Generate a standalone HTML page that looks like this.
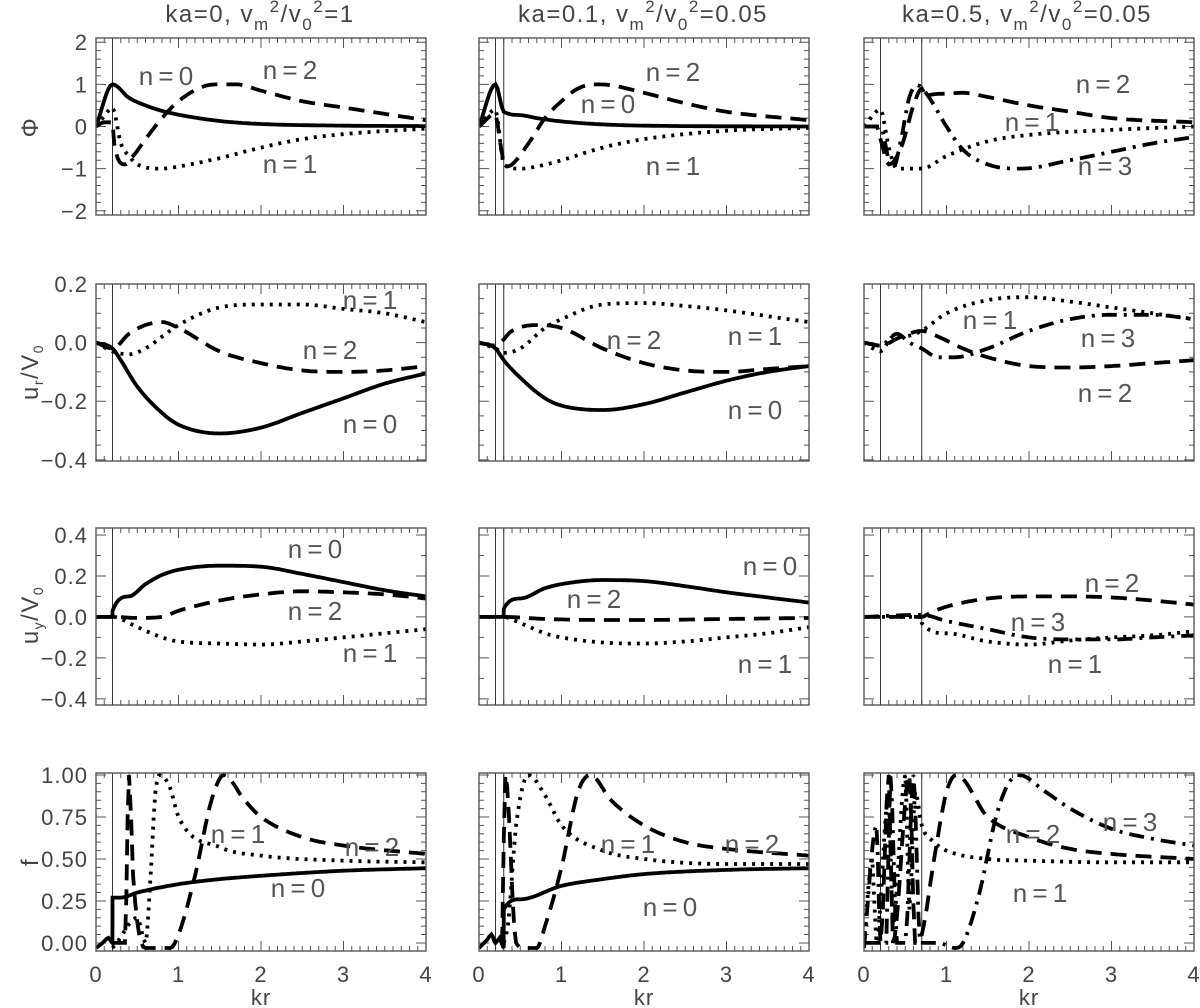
<!DOCTYPE html>
<html>
<head>
<meta charset="utf-8">
<style>
  html,body{margin:0;padding:0;background:#fff;}
  svg{display:block;font-family:"Liberation Sans",sans-serif;}
  .tl{font-size:22px;fill:#444;letter-spacing:1px;}
  .lab{font-size:26px;fill:#555;}
  .ttl{font-size:24px;fill:#444;letter-spacing:1.5px;}
</style>
</head>
<body>
<svg id="fig" width="1200" height="1008" viewBox="0 0 1200 1008" xmlns="http://www.w3.org/2000/svg"></svg>
<script>
// ---------- DATA (kr samples and values) ----------
// Row 1: Phi
const p11_n0_x=[0,0.2,0.4,0.6,0.8,1.0,1.5,2,3,4];
const p11_n0_y=[0,1.0,0.68,0.5,0.37,0.28,0.13,0.06,0.02,0.01];
const p11_n1_x=[0,0.1,0.2,0.3,0.4,0.5,0.8,1.0,1.5,2,2.5,3,4];
const p11_n1_y=[0,0.25,0.45,-0.4,-0.7,-0.9,-1.0,-0.95,-0.75,-0.5,-0.3,-0.18,-0.05];
const p11_n2_x=[0,0.1,0.2,0.22,0.35,0.45,0.6,0.8,1.0,1.3,1.5,1.7,2,2.5,3,3.5,4];
const p11_n2_y=[0,0.1,0.1,-0.4,-0.9,-0.7,-0.3,0.2,0.6,0.95,1.0,1.0,0.85,0.6,0.45,0.3,0.15];

const p12_n0_x=[0,0.2,0.3,0.5,0.7,1,1.5,2,4];
const p12_n0_y=[0,1.0,0.35,0.27,0.2,0.12,0.05,0.02,0];
const p12_n1_x=[0,0.2,0.3,0.5,0.7,1,1.5,2,3,4];
const p12_n1_y=[0,0.4,-0.9,-1.0,-0.95,-0.8,-0.5,-0.3,-0.1,-0.03];
const p12_n2_x=[0,0.2,0.25,0.32,0.4,0.6,0.8,1.0,1.2,1.4,1.6,2,2.5,3,4];
const p12_n2_y=[0,0.3,-0.3,-0.95,-0.9,-0.4,0.2,0.6,0.9,1.0,0.98,0.8,0.55,0.35,0.15];

const p13_n1_x=[0,0.2,0.3,0.4,0.7,1.0,1.5,2,3,4];
const p13_n1_y=[0,0.4,-0.5,-1.0,-1.0,-0.7,-0.35,-0.2,-0.08,0];
const p13_n2_x=[0,0.15,0.2,0.3,0.45,0.6,0.7,0.75,0.8,1.0,1.2,1.5,2,2.5,3,4];
const p13_n2_y=[0,0,-0.3,-0.9,-0.5,0.5,0.9,0.7,0.75,0.78,0.8,0.7,0.5,0.35,0.2,0.1];
const p13_n3_x=[0,0.2,0.3,0.35,0.45,0.55,0.65,0.75,1.0,1.2,1.5,1.9,2.5,3,3.5,4];
const p13_n3_y=[0,0,-0.8,-1.0,-0.3,0.7,0.98,0.8,0,-0.55,-0.9,-1.0,-0.8,-0.6,-0.4,-0.25];

// Row 2: u_r/V0
const p21_n0_x=[0,0.2,0.3,0.5,0.8,1.0,1.5,2,2.5,3,3.5,4];
const p21_n0_y=[0,-0.02,-0.06,-0.15,-0.24,-0.28,-0.31,-0.29,-0.24,-0.19,-0.14,-0.105];
const p21_n1_x=[0,0.2,0.4,0.6,0.8,1.0,1.5,2,2.5,3,3.5,4];
const p21_n1_y=[0,-0.03,-0.04,-0.02,0.02,0.06,0.12,0.13,0.13,0.115,0.1,0.07];
const p21_n2_x=[0,0.2,0.4,0.6,0.8,1.0,1.5,2,2.5,3,3.5,4];
const p21_n2_y=[0,-0.02,0.03,0.06,0.07,0.05,-0.03,-0.07,-0.095,-0.1,-0.095,-0.08];

const p22_n0_x=[0,0.2,0.3,0.5,0.8,1.0,1.5,2,2.5,3,3.5,4];
const p22_n0_y=[0,-0.02,-0.06,-0.12,-0.19,-0.215,-0.23,-0.21,-0.17,-0.13,-0.1,-0.08];
const p22_n1_x=[0,0.2,0.3,0.5,0.8,1.0,1.5,2,2.5,3,3.5,4];
const p22_n1_y=[0,-0.02,-0.035,-0.02,0.05,0.08,0.13,0.135,0.125,0.11,0.09,0.07];
const p22_n2_x=[0,0.2,0.4,0.7,1.0,1.5,2,2.5,3,3.5,4];
const p22_n2_y=[0,-0.01,0.04,0.06,0.05,-0.02,-0.07,-0.095,-0.1,-0.09,-0.08];

const p23_n1_x=[0,0.2,0.35,0.45,0.7,0.8,1.0,1.5,2,2.5,3,3.5,4];
const p23_n1_y=[0,-0.03,0.02,0.02,0.04,0.06,0.1,0.145,0.155,0.14,0.12,0.1,0.08];
const p23_n2_x=[0,0.2,0.45,0.7,0.9,1.2,1.5,2,2.5,3,3.5,4];
const p23_n2_y=[0,-0.01,0.02,0.04,0.02,-0.02,-0.05,-0.08,-0.085,-0.08,-0.07,-0.06];
const p23_n3_x=[0,0.2,0.4,0.55,0.7,0.9,1.1,1.5,2,2.5,3,3.5,4];
const p23_n3_y=[0,-0.01,0.03,0,-0.02,-0.05,-0.05,-0.02,0.04,0.08,0.095,0.095,0.08];

// Row 3: u_y/V0
const p31_n0_x=[0,0.199,0.2,0.4,0.6,0.8,1.0,1.5,2,2.5,3,3.5,4];
const p31_n0_y=[0,0,0.03,0.1,0.16,0.205,0.23,0.25,0.245,0.21,0.17,0.13,0.1];
const p31_n1_x=[0,0.2,0.5,0.8,1.0,1.5,2,2.5,3,3.5,4];
const p31_n1_y=[0,0,-0.05,-0.1,-0.12,-0.13,-0.135,-0.12,-0.1,-0.08,-0.06];
const p31_n2_x=[0,0.2,0.5,0.8,1.0,1.5,2,2.5,3,3.5,4];
const p31_n2_y=[0,0,-0.005,0,0.03,0.08,0.11,0.125,0.12,0.11,0.09];

const p32_n0_x=[0,0.299,0.3,0.5,0.8,1.0,1.5,2,2.5,3,3.5,4];
const p32_n0_y=[0,0,0.04,0.09,0.14,0.16,0.18,0.175,0.15,0.12,0.095,0.07];
const p32_n1_x=[0,0.3,0.5,0.8,1.0,1.5,2,2.5,3,3.5,4];
const p32_n1_y=[0,0,-0.03,-0.08,-0.1,-0.125,-0.13,-0.12,-0.1,-0.08,-0.05];
const p32_n2_x=[0,0.3,0.8,1.5,2,3,4];
const p32_n2_y=[0,0,-0.01,-0.015,-0.015,-0.01,-0.005];

const p33_n1_x=[0,0.699,0.7,1.0,1.5,2,2.5,3,3.5,4];
const p33_n1_y=[0,0,-0.03,-0.08,-0.12,-0.135,-0.115,-0.1,-0.09,-0.07];
const p33_n2_x=[0,0.7,0.8,1.0,1.5,2,2.5,3,3.5,4];
const p33_n2_y=[0,0,0.02,0.05,0.09,0.1,0.1,0.095,0.08,0.06];
const p33_n3_x=[0,0.7,1.0,1.5,2,2.5,3,3.5,4];
const p33_n3_y=[0,0.01,-0.02,-0.06,-0.1,-0.11,-0.11,-0.1,-0.09];

// Row 4: f
const p41_n0_x=[0,0.08,0.15,0.199,0.2,0.3,0.5,1.0,1.5,2,3,4];
const p41_n0_y=[-0.03,0.0,0.03,0,0.27,0.27,0.3,0.35,0.38,0.4,0.43,0.445];
const p41_n1_x=[0.2,0.25,0.5,0.6,0.65,0.72,0.78,0.9,1.0,1.5,2,3,4];
const p41_n1_y=[-0.03,0,0.15,0.0,0.3,0.9,1.0,0.92,0.75,0.57,0.52,0.49,0.48];
const p41_n2_x=[0.2,0.35,0.4,0.45,0.6,0.9,1.0,1.2,1.4,1.55,1.8,2,2.5,3,4];
const p41_n2_y=[0,0,1.0,0.4,-0.03,-0.03,0.05,0.4,0.85,1.0,0.85,0.75,0.63,0.58,0.53];

const p42_n0_x=[0,0.1,0.15,0.2,0.25,0.299,0.3,0.5,1.0,1.5,2,3,4];
const p42_n0_y=[-0.03,0.02,0.05,0,0.03,-0.03,0.2,0.26,0.34,0.38,0.41,0.435,0.445];
const p42_n1_x=[0.3,0.35,0.45,0.6,0.8,1.0,1.5,2,3,4];
const p42_n1_y=[0,0.1,0.7,1.0,0.88,0.7,0.55,0.5,0.47,0.47];
const p42_n2_x=[0.28,0.32,0.45,0.55,0.7,0.8,1.0,1.2,1.35,1.6,2,2.5,3,4];
const p42_n2_y=[0,1.0,0,-0.03,-0.03,0.1,0.45,0.9,1.0,0.85,0.7,0.6,0.56,0.52];

const p43_n1_x=[0,0.1,0.15,0.3,0.35,0.5,0.55,0.62,0.7,0.85,1.0,1.5,2,3,4];
const p43_n1_y=[0,0.5,0,0.9,0.1,1.0,0.2,0.9,0.7,0.6,0.55,0.5,0.49,0.48,0.48];
const p43_n2_x=[0,0.2,0.3,0.35,0.55,0.62,0.7,0.85,1.0,1.12,1.5,2,2.5,3,4];
const p43_n2_y=[0,0,1.0,0,1.0,0,0.05,0.5,0.9,1.0,0.75,0.63,0.56,0.53,0.5];
const p43_n3_x=[0,0.15,0.2,0.27,0.32,0.4,0.5,0.6,0.68,0.9,1.1,1.2,1.4,1.6,1.75,1.88,2.2,2.5,3,3.5,4];
const p43_n3_y=[-0.03,0.7,0,0,1.0,0,0,1.0,0,0,-0.03,0,0.3,0.75,0.95,1.0,0.9,0.8,0.68,0.62,0.58];

// Tick labels
const xTickLabels=["0","1","2","3","4"];
const yTicks1=[2,1,0,-1,-2];           const yTickLabels1=["2","1","0","\u22121","\u22122"];
const yTicks2=[0.2,0,-0.2,-0.4];       const yTickLabels2=["0.2","0.0","\u22120.2","\u22120.4"];
const yTicks3=[0.4,0.2,0,-0.2,-0.4];   const yTickLabels3=["0.4","0.2","0.0","\u22120.2","\u22120.4"];
const yTicks4=[1,0.75,0.5,0.25,0];     const yTickLabels4=["1.00","0.75","0.50","0.25","0.00"];

// ---------- LAYOUT ----------
const NS="http://www.w3.org/2000/svg";
const svg=document.getElementById('fig');
const colX=[96,479,864], PW=330;
const rowY=[[38,215],[284,461],[528,705],[773,951]];
const yDom=[[-2.1,2.1],[-0.404,0.2],[-0.43,0.434],[-0.048,1.012]];
const yMinor=[0.2,0.05,0.1,0.05];
const rowTicks=[yTicks1,yTicks2,yTicks3,yTicks4];
const rowTickLabels=[yTickLabels1,yTickLabels2,yTickLabels3,yTickLabels4];
const vlines=[[0.2],[0.2,0.3],[0.2,0.7]];
const styles={solid:"",dash:"16,9",dot:"3,6",dashdot:"15,7,3,7"};

function mk(tag,attrs,parent){const e=document.createElementNS(NS,tag);for(const k in attrs)e.setAttribute(k,attrs[k]);(parent||svg).appendChild(e);return e;}

function xS(c){return v=>colX[c]+v/4*PW;}
function yS(r){const [a,b]=yDom[r];const [t,bt]=rowY[r];return v=>bt-(v-a)/(b-a)*(bt-t);}

// monotone cubic sampling
function sample(xs,ys){
  const n=xs.length,out=[];
  if(n<2)return xs.map((x,i)=>[x,ys[i]]);
  const d=[],m=new Array(n);
  for(let i=0;i<n-1;i++)d.push((ys[i+1]-ys[i])/((xs[i+1]-xs[i])||1e-9));
  m[0]=d[0];m[n-1]=d[n-2];
  for(let i=1;i<n-1;i++){m[i]=(d[i-1]*d[i]<=0)?0:(d[i-1]+d[i])/2;}
  for(let i=0;i<n-1;i++){
    if(d[i]===0){m[i]=0;m[i+1]=0;continue;}
    const a=m[i]/d[i],b=m[i+1]/d[i],s=a*a+b*b;
    if(s>9){const t=3/Math.sqrt(s);m[i]=t*a*d[i];m[i+1]=t*b*d[i];}
  }
  for(let i=0;i<n-1;i++){
    const h=xs[i+1]-xs[i],N=Math.max(2,Math.ceil(h*40));
    for(let k=0;k<N;k++){const t=k/N,t2=t*t,t3=t2*t;
      const y=(2*t3-3*t2+1)*ys[i]+(t3-2*t2+t)*h*m[i]+(-2*t3+3*t2)*ys[i+1]+(t3-t2)*h*m[i+1];
      out.push([xs[i]+t*h,y]);}
  }
  out.push([xs[n-1],ys[n-1]]);
  return out;
}

const panels=[
 {r:0,c:0,s:[[p11_n0_x,p11_n0_y,'solid'],[p11_n1_x,p11_n1_y,'dot'],[p11_n2_x,p11_n2_y,'dash']],
  l:[["n=0",166,76],["n=2",290,70],["n=1",290,164]]},
 {r:0,c:1,s:[[p12_n0_x,p12_n0_y,'solid'],[p12_n1_x,p12_n1_y,'dot'],[p12_n2_x,p12_n2_y,'dash']],
  l:[["n=2",673,72],["n=0",608,104],["n=1",673,166]]},
 {r:0,c:2,s:[[p13_n1_x,p13_n1_y,'dot'],[p13_n2_x,p13_n2_y,'dash'],[p13_n3_x,p13_n3_y,'dashdot']],
  l:[["n=2",1103,84],["n=1",1032,122],["n=3",1105,166]]},
 {r:1,c:0,s:[[p21_n0_x,p21_n0_y,'solid'],[p21_n1_x,p21_n1_y,'dot'],[p21_n2_x,p21_n2_y,'dash']],
  l:[["n=1",370,300],["n=2",330,350],["n=0",370,424]]},
 {r:1,c:1,s:[[p22_n0_x,p22_n0_y,'solid'],[p22_n1_x,p22_n1_y,'dot'],[p22_n2_x,p22_n2_y,'dash']],
  l:[["n=2",634,340],["n=1",755,336],["n=0",755,410]]},
 {r:1,c:2,s:[[p23_n1_x,p23_n1_y,'dot'],[p23_n2_x,p23_n2_y,'dash'],[p23_n3_x,p23_n3_y,'dashdot']],
  l:[["n=1",990,320],["n=3",1108,338],["n=2",1105,393]]},
 {r:2,c:0,s:[[p31_n0_x,p31_n0_y,'solid'],[p31_n1_x,p31_n1_y,'dot'],[p31_n2_x,p31_n2_y,'dash']],
  l:[["n=0",315,549],["n=2",315,611],["n=1",370,653]]},
 {r:2,c:1,s:[[p32_n0_x,p32_n0_y,'solid'],[p32_n1_x,p32_n1_y,'dot'],[p32_n2_x,p32_n2_y,'dash']],
  l:[["n=0",770,566],["n=2",594,599],["n=1",765,664]]},
 {r:2,c:2,s:[[p33_n1_x,p33_n1_y,'dot'],[p33_n2_x,p33_n2_y,'dash'],[p33_n3_x,p33_n3_y,'dashdot']],
  l:[["n=2",1112,583],["n=3",1038,622],["n=1",1075,664]]},
 {r:3,c:0,s:[[p41_n0_x,p41_n0_y,'solid'],[p41_n1_x,p41_n1_y,'dot'],[p41_n2_x,p41_n2_y,'dash']],
  l:[["n=1",238,834],["n=2",372,847],["n=0",298,888]]},
 {r:3,c:1,s:[[p42_n0_x,p42_n0_y,'solid'],[p42_n1_x,p42_n1_y,'dot'],[p42_n2_x,p42_n2_y,'dash']],
  l:[["n=1",628,844],["n=2",752,844],["n=0",670,907]]},
 {r:3,c:2,s:[[p43_n1_x,p43_n1_y,'dot'],[p43_n2_x,p43_n2_y,'dash'],[p43_n3_x,p43_n3_y,'dashdot']],
  l:[["n=2",1033,834],["n=3",1130,822],["n=1",1040,893]]}
];

const titles=[["ka=0,  v","m","2","/v","0","2","=1",260],["ka=0.1,  v","m","2","/v","0","2","=0.05",643],["ka=0.5,  v","m","2","/v","0","2","=0.05",1027]];
titles.forEach((t,i)=>{
  const tx=mk('text',{class:'ttl',x:t[7],y:22,'text-anchor':'middle'});
  
  
  tx.setAttribute('xml:space','preserve');
  const parts=[[t[0],0],[t[1],8],[t[2],-18],[t[3],10],[t[4],8],[t[5],-18],[t[6],10]];
  parts.forEach(p=>{const ts=mk('tspan',{dy:p[1]},tx);if(p[1]!==0&&p[0].length===1&&/[m0-9]/.test(p[0]))ts.setAttribute('font-size','17');ts.textContent=p[0];});
});

const yTitles=[["\u03A6",127],["u_r/V_0",372],["u_y/V_0",615],["f",862]];
yTitles.forEach((t,i)=>{
  const g=mk('text',{class:'ttl',transform:`translate(38,${t[1]}) rotate(-90)`,'text-anchor':'middle','font-size':'21'});
  
  
  if(i===1||i===2){
    const a=mk('tspan',{},g);a.textContent='u';
    const b=mk('tspan',{dy:5,'font-size':'14'},g);b.textContent=i===1?'r':'y';
    const c=mk('tspan',{dy:-5},g);c.textContent='/V';
    const d=mk('tspan',{dy:5,'font-size':'14'},g);d.textContent='0';
  } else g.textContent=t[0];
});

panels.forEach(p=>{
  const {r,c}=p,X=xS(c),Y=yS(r),[top,bot]=rowY[r],left=colX[c],right=left+PW;
  const g=mk('g',{});
  
  
  const cid=`clip${r}${c}`;
  const cp=mk('clipPath',{id:cid},g);mk('rect',{x:left,y:top,width:PW,height:bot-top},cp);
  let tk='';
  for(let k=0;k<=40;k++){const x=X(k*0.1),L=(k%10===0)?10:5;tk+=`M${x} ${bot}v${-L}M${x} ${top}v${L}`;}
  const [a,b]=yDom[r],st=yMinor[r];
  for(let v=Math.ceil(a/st)*st;v<=b+1e-9;v+=st){const y=Y(v);const maj=rowTicks[r].some(t=>Math.abs(t-v)<1e-6);const L=maj?10:5;tk+=`M${left} ${y}h${L}M${right} ${y}h${-L}`;}
  const tp=mk('path',{d:tk,stroke:'#555','stroke-width':1,fill:'none'},g);
  
  
  vlines[c].forEach(v=>{const l=mk('line',{x1:X(v),x2:X(v),y1:top,y2:bot,stroke:'#333','stroke-width':1},g);
    
    });
  p.s.forEach((s,i)=>{
    const pts=sample(s[0],s[1]);
    const d=pts.map((q,j)=>(j?'L':'M')+X(q[0]).toFixed(1)+' '+Y(q[1]).toFixed(1)).join('');
    const path=mk('path',{d:d,fill:'none',stroke:'#000','stroke-width':3.8,'clip-path':`url(#${cid})`,'stroke-dasharray':styles[s[2]]},g);
    
    
  });
  const box=mk('rect',{x:left,y:top,width:PW,height:bot-top,fill:'none',stroke:'#555','stroke-width':1.4},g);
  
  
  p.l.forEach(l=>{const t=mk('text',{class:'lab',x:l[1],y:l[2]+9,'text-anchor':'middle'},g);
    
    
    t.textContent=l[0].replace('=',' = ').replace(/ /g,'\u2009');});
  if(c===0){rowTicks[r].forEach((v,i)=>{const t=mk('text',{class:'tl',x:88,y:Y(v)+8,'text-anchor':'end'},g);
    
    
    t.textContent=rowTickLabels[r][i];});}
  if(r===3){xTickLabels.forEach((s,i)=>{const t=mk('text',{class:'tl',x:X(i),y:982,'text-anchor':'middle'},g);
      
      
      t.textContent=s;});
    const k=mk('text',{class:'tl',x:left+PW/2,y:1005,'text-anchor':'middle'},g);
    
    
    k.textContent='kr';}
});
</script>
</body>
</html>
